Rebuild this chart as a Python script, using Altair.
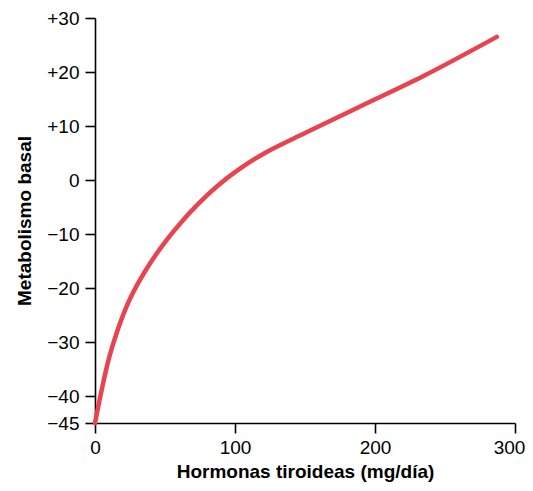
import altair as alt
import pandas as pd

# Values
hormonas = [0, 5, 10, 16, 25, 36, 48, 61, 73, 87, 103, 122, 150, 190, 235, 287]
metabolismo = [-45, -38.6, -33.0, -27.9, -22.0, -16.8, -12.2, -8.0, -4.6, -1.2, 2.0, 5.1, 8.7, 13.7, 19.3, 26.5]
y_ticks = [-45, -40, -30, -20, -10, 0, 10, 20, 30]
x_ticks = [0, 100, 200, 300]

df = pd.DataFrame({"x": hormonas, "y": metabolismo})

font = "Liberation Sans"

chart = alt.Chart(df).mark_line(
    color="#E8434F", strokeWidth=4.5, strokeCap="round", interpolate="catmull-rom"
).encode(
    x=alt.X("x:Q", scale=alt.Scale(domain=[0, 300], nice=False, zero=False),
            axis=alt.Axis(values=x_ticks, title="Hormonas tiroideas (mg/día)", grid=False,
                          tickSize=10, labelPadding=5, titlePadding=5,
                          labelOffset=alt.ConditionalAxisNumber(
                              condition={"test": "datum.value == 300", "value": -6},
                              value=0))),
    y=alt.Y("y:Q", scale=alt.Scale(domain=[-45, 30], nice=False, zero=False),
            axis=alt.Axis(values=y_ticks, title="Metabolismo basal", grid=False,
                          tickSize=10, labelPadding=6, titlePadding=12,
                          labelExpr="datum.value > 0 ? '+' + datum.label : datum.label")),
).properties(
    width=420, height=405,
    autosize=alt.AutoSizeParams(type="none"),
    padding={"left": 87, "top": 10, "right": 10, "bottom": 60},
).configure_view(stroke=None).configure_axis(
    domainColor="black", domainWidth=1.6, tickColor="black", tickWidth=1.6,
    labelFont=font, labelFontSize=19, labelColor="black",
    titleFont=font, titleFontSize=19, titleFontWeight="bold", titleColor="black",
    labelFlush=False, labelOverlap=False,
)

chart.save("out.html", embed_options={"renderer": "svg", "actions": False})
